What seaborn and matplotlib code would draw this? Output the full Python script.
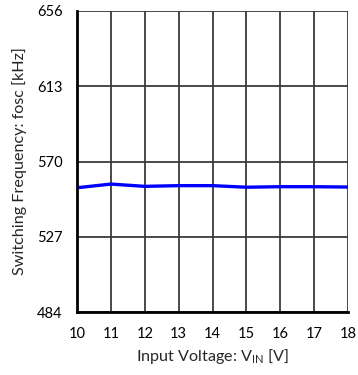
import matplotlib
matplotlib.use("Agg")
import matplotlib.pyplot as plt
import seaborn as sns
import pandas as pd

# Switching frequency vs. input voltage
vin = [10, 11, 12, 13, 14, 15, 16, 17, 18]
fosc = [555.0, 557.1, 555.8, 556.2, 556.2, 555.3, 555.6, 555.6, 555.4]
x_ticks = [10, 11, 12, 13, 14, 15, 16, 17, 18]
y_ticks = [484, 527, 570, 613, 656]

sns.set_theme(style="white")
plt.rcParams["font.family"] = ["Lato", "DejaVu Sans"]
plt.rcParams["mathtext.fontset"] = "custom"
plt.rcParams["mathtext.rm"] = "Lato"

df = pd.DataFrame({"vin": vin, "fosc": fosc})

fig = plt.figure(figsize=(3.58, 3.75), dpi=100)
ax = fig.add_axes([77 / 358, 1 - 312 / 375, (348 - 77) / 358, (312 - 11) / 375])

sns.lineplot(data=df, x="vin", y="fosc", ax=ax, color="#0000FF", linewidth=2.4)

ax.set_xlim(10, 18)
ax.set_ylim(484, 656)
ax.set_xticks(x_ticks)
ax.set_yticks(y_ticks)
ax.set_xticklabels([str(t) for t in x_ticks], fontsize=10.5)
ax.set_yticklabels([str(t) for t in y_ticks], fontsize=10.5)
ax.tick_params(axis="x", length=0, pad=11, colors="black")
ax.tick_params(axis="y", length=0, pad=10.5, colors="black")
ax.grid(True, color="#3a3a3a", linewidth=1.3)
ax.set_axisbelow(True)

for side in ["top", "right"]:
    ax.spines[side].set_visible(False)
for side in ["left", "bottom"]:
    ax.spines[side].set_color("black")
    ax.spines[side].set_linewidth(2.0)

ax.set_xlabel(r"Input Voltage: V$_{\mathrm{IN}}$ [V]", fontsize=11.6, labelpad=4)
ax.set_ylabel("Switching Frequency: fosc [kHz]", fontsize=11.6, labelpad=7)

fig.savefig("out.png", dpi=100)
